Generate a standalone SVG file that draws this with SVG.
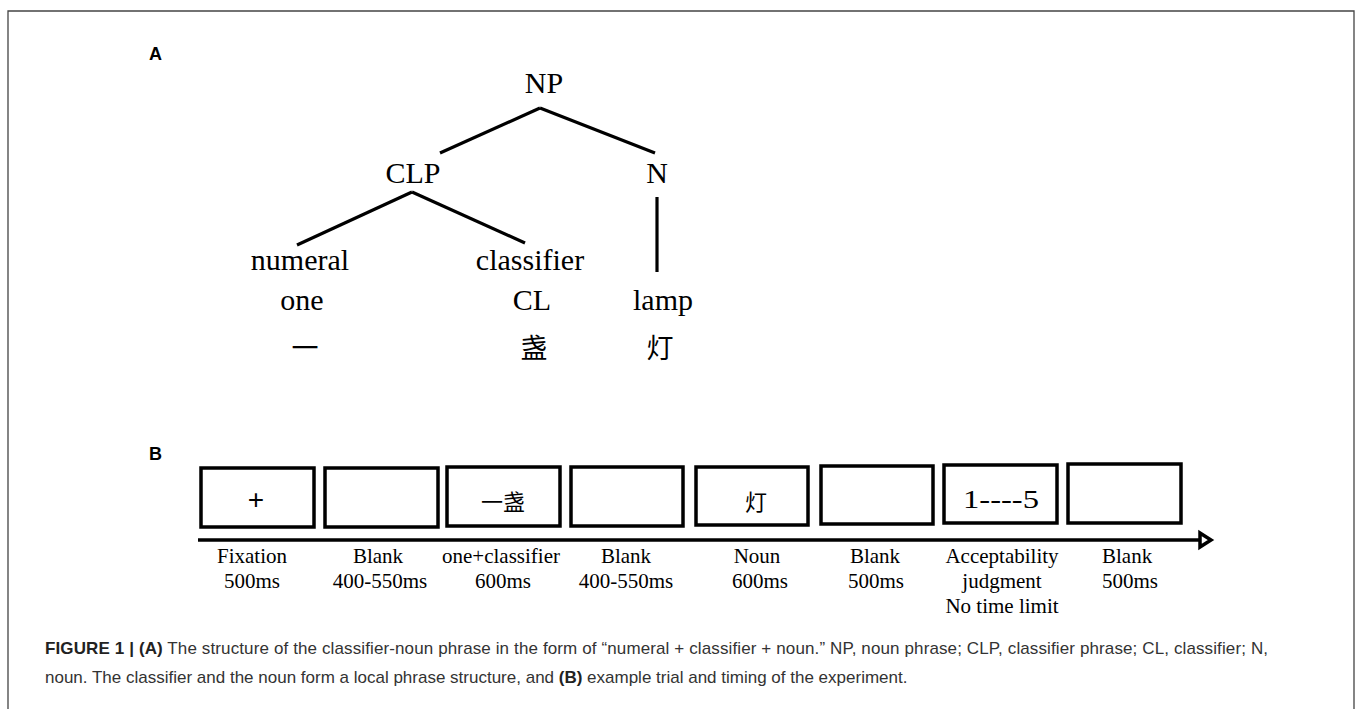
<svg xmlns="http://www.w3.org/2000/svg" width="1357" height="709" viewBox="0 0 1357 709">
<style>
.serif{font-family:"Liberation Serif","Times New Roman",serif;fill:#000}
.tree{font-size:30px;text-anchor:middle}
.cjk{font-family:"Liberation Serif","Noto Sans CJK SC",serif;fill:#000;text-anchor:middle}
.lbl{font-size:21px;text-anchor:middle}
.panel{font-family:"Liberation Sans",Arial,sans-serif;font-weight:bold;font-size:18px;fill:#000}
.edge{stroke:#000;stroke-width:3.2;fill:none;stroke-linecap:butt}
.box{fill:#fff;stroke:#000;stroke-width:3.5}
.cap{font-family:"Liberation Sans",Arial,sans-serif;font-size:17px;fill:#333}
.capb{font-weight:bold;fill:#222}
</style>
<rect x="0" y="0" width="1357" height="709" fill="#fff"/>
<path d="M8,712 V11 H1354 V712" fill="none" stroke="#444" stroke-width="1.3"/>

<text class="panel" x="149" y="60">A</text>
<text class="panel" x="149" y="460">B</text>

<g id="connectors">
  <path class="edge" d="M540,108 L440,153"/>
  <path class="edge" d="M540,108 L655,153"/>
  <path class="edge" d="M412,192 L297,245"/>
  <path class="edge" d="M412,192 L525,243"/>
  <path class="edge" d="M657,197 L657,272"/>
</g>

<g id="node-NP"><text class="serif tree" x="544" y="93">NP</text></g>
<g id="node-CLP"><text class="serif tree" x="413" y="183">CLP</text></g>
<g id="node-N"><text class="serif tree" x="657" y="183">N</text></g>
<g id="node-numeral">
  <text class="serif tree" x="300" y="270">numeral</text>
  <text class="serif tree" x="302" y="310">one</text>
  <text class="cjk" font-size="27" x="305" y="358">一</text>
</g>
<g id="node-classifier">
  <text class="serif tree" x="530" y="270">classifier</text>
  <text class="serif tree" x="532" y="310">CL</text>
  <text class="cjk" font-size="27" x="534" y="358">盏</text>
</g>
<g id="node-lamp">
  <text class="serif tree" x="663" y="310">lamp</text>
  <text class="cjk" font-size="27" x="660" y="358">灯</text>
</g>

<g id="timeline">
  <line x1="198" y1="540" x2="1200" y2="540" stroke="#000" stroke-width="3.5"/>
  <polygon points="1200,533 1211,540 1200,547" fill="#fff" stroke="#000" stroke-width="3.5" stroke-linejoin="miter"/>
</g>

<g id="step1">
  <rect class="box" x="201" y="468" width="113" height="59"/>
  <text x="256" y="509" font-family="Liberation Sans,Arial,sans-serif" font-size="28" text-anchor="middle">+</text>
  <text class="serif lbl" x="252" y="563">Fixation</text>
  <text class="serif lbl" x="252" y="588">500ms</text>
</g>
<g id="step2">
  <rect class="box" x="325" y="468" width="113" height="59"/>
  <text class="serif lbl" x="378" y="563">Blank</text>
  <text class="serif lbl" x="380" y="588">400-550ms</text>
</g>
<g id="step3">
  <rect class="box" x="447" y="467" width="113" height="59"/>
  <text class="cjk" font-size="22" x="503" y="510">一盏</text>
  <text class="serif lbl" x="501" y="563">one+classifier</text>
  <text class="serif lbl" x="503" y="588">600ms</text>
</g>
<g id="step4">
  <rect class="box" x="571" y="467" width="112" height="59"/>
  <text class="serif lbl" x="626" y="563">Blank</text>
  <text class="serif lbl" x="626" y="588">400-550ms</text>
</g>
<g id="step5">
  <rect class="box" x="696" y="467" width="112" height="58"/>
  <text class="cjk" font-size="22" x="756" y="510">灯</text>
  <text class="serif lbl" x="757" y="563">Noun</text>
  <text class="serif lbl" x="760" y="588">600ms</text>
</g>
<g id="step6">
  <rect class="box" x="821" y="466" width="112" height="58"/>
  <text class="serif lbl" x="875" y="563">Blank</text>
  <text class="serif lbl" x="876" y="588">500ms</text>
</g>
<g id="step7">
  <rect class="box" x="944" y="465" width="113" height="58"/>
  <text class="serif" font-size="25" x="963" y="508" textLength="76" lengthAdjust="spacingAndGlyphs">1----5</text>
  <text class="serif lbl" x="1002" y="563">Acceptability</text>
  <text class="serif lbl" x="1002" y="588">judgment</text>
  <text class="serif lbl" x="1002" y="613">No time limit</text>
</g>
<g id="step8">
  <rect class="box" x="1068" y="464" width="113" height="59"/>
  <text class="serif" font-size="21" x="1102" y="563">Blank</text>
  <text class="serif" font-size="21" x="1102" y="588">500ms</text>
</g>

<g id="caption">
  <text class="cap" x="45" y="654" textLength="1223" lengthAdjust="spacing"><tspan class="capb">FIGURE 1 | (A)</tspan> The structure of the classifier-noun phrase in the form of “numeral + classifier + noun.” NP, noun phrase; CLP, classifier phrase; CL, classifier; N,</text>
  <text class="cap" x="45" y="683">noun. The classifier and the noun form a local phrase structure, and <tspan class="capb">(B)</tspan> example trial and timing of the experiment.</text>
</g>
</svg>
